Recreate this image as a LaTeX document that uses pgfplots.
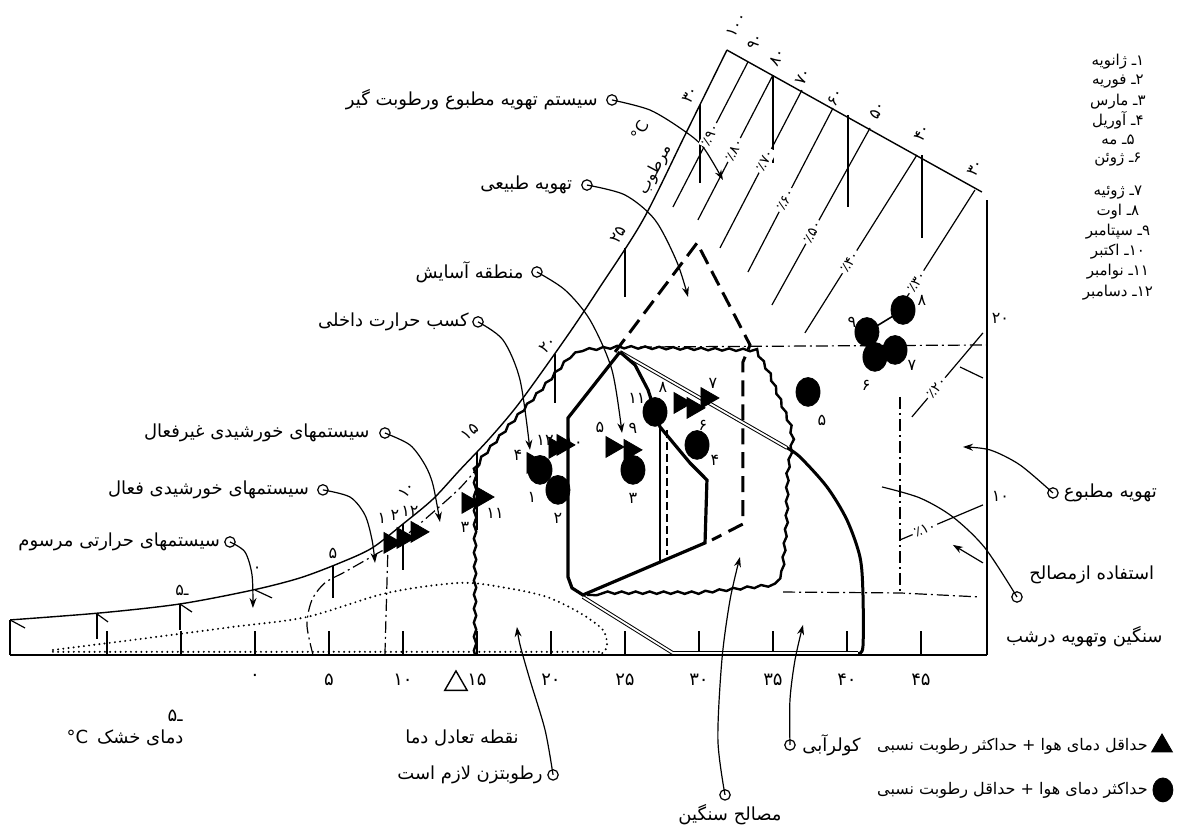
\documentclass[border=0pt]{standalone}
\usepackage{pgfplots}
\pgfplotsset{compat=1.18}
\usepackage{fontspec}
\usetikzlibrary{arrows.meta,decorations.pathmorphing}
\newfontfamily\pfont[Script=Arabic]{DejaVu Sans}
\TeXXeTstate=1
\newcommand{\fa}[1]{\hbox{\beginR #1\endR}}
% two pieces kept in visual order, left then right
\newcommand{\ns}[2]{\hbox{\hbox{#1}\hbox{#2}}}

% x: dry-bulb temperature (C), y: humidity ratio (g/kg)
\pgfplotsset{
  base/.style={line width=0.7pt},
  leader/.style={line width=0.6pt, smooth, -{Stealth[length=5pt,width=3.5pt]},
    mark=o, mark indices={1}, mark size=2.6pt, mark options={fill=white}},
  leadnoarrow/.style={line width=0.6pt, smooth,
    mark=o, mark indices={1}, mark size=2.6pt, mark options={fill=white}},
  natvent/.style={line width=1.5pt, dash pattern=on 8pt off 4pt},
  dd/.style={line width=0.6pt, dash pattern=on 6pt off 2pt on 1pt off 2pt},
  dots/.style={line width=1.1pt, line cap=round, dash pattern=on 0pt off 2.6pt},
  wavy/.style={line width=1.2pt, decorate, decoration={snake, amplitude=0.6pt, segment length=7pt}},
  dbl/.style={line width=0.5pt, double, double distance=0.9pt},
  tri/.style={only marks, mark=triangle*, mark size=6pt, mark options={rotate=-90}},
  blob/.style={only marks, mark=*, mark size=6pt, mark options={yscale=1.2}},
}
\tikzset{
  lab/.style={font=\pfont\fontsize{9}{11}\selectfont, inner sep=1pt},
  num/.style={font=\pfont\fontsize{8}{9}\selectfont, inner sep=0.5pt},
  mon/.style={font=\pfont\fontsize{7.5}{9}\selectfont, inner sep=0.5pt},
  rh/.style={font=\pfont\fontsize{7}{8}\selectfont, inner sep=1pt, fill=white},
}

\begin{document}
\begin{tikzpicture}
\begin{axis}[
  scale only axis, width=488.5pt, height=317.75pt,
  xmin=-16.55, xmax=49.46, ymin=0, ymax=41,
  axis x line=bottom, axis y line=none,
  x axis line style={-, line width=0.9pt},
  xtick={-10,-5,...,45},
  xticklabels={,,۰,۵,۱۰,۱۵,۲۰,۲۵,۳۰,۳۵,۴۰,۴۵},
  xtick align=inside, major tick length=12pt,
  tick style={black, line width=0.6pt},
  xticklabel style={font=\pfont\fontsize{9}{10}\selectfont, yshift=-6pt},
  clip=false,
]
% frame
\addplot[base] coordinates {(-16.55,0) (-16.55,2.26)};
\addplot[base] coordinates {(49.46,0) (49.46,29.36)};
\addplot[base] coordinates {(31.89,39.03) (49.12,29.87)};
% saturation curve
\addplot[base, smooth, tension=0.5] coordinates {(-16.55,2.26) (-10.47,2.71) (-5.07,3.29) (-0.14,4.19) (3.04,4.97) (5.74,5.94) (7.91,6.90) (10.0,8.45) (12.03,10.06) (13.85,11.94) (15.88,14.0) (17.91,16.32) (21.15,20.65) (23.31,23.74) (26.22,28.07) (29.06,33.55) (31.89,39.03)};
% wet-bulb and dry-bulb short lines
\addplot[line width=0.6pt, unbounded coords=jump] coordinates {(-10.68,2.70) (-10.68,1.0) (nan,nan) (-5.07,3.27) (-5.07,1.6) (nan,nan) (5.27,5.77) (5.27,3.7) (nan,nan) (10.0,8.45) (10.0,5.48) (nan,nan) (15.0,13.1) (15.0,8.07) (nan,nan) (20.27,19.45) (20.27,16.26) (nan,nan) (25.0,26.25) (25.0,23.10) (nan,nan) (30.07,35.5) (30.07,30.45) (nan,nan) (35.0,37.42) (35.0,31.74) (nan,nan) (40.07,34.84) (40.07,28.90) (nan,nan) (45.07,32.26) (45.07,26.90)};
\addplot[line width=0.6pt, unbounded coords=jump] coordinates {(-16.55,2.26) (-15.54,1.74) (nan,nan) (-10.68,2.65) (-9.93,2.13) (nan,nan) (-5.07,3.29) (-4.26,2.77) (nan,nan) (0,4.19) (1.15,3.68)};
% relative humidity lines
\addplot[line width=0.6pt, unbounded coords=jump] coordinates {(33.31,38.26) (28.24,28.90) (nan,nan) (35.0,37.42) (29.93,28.07) (nan,nan) (36.96,36.45) (31.42,26.26) (nan,nan) (39.06,35.29) (33.31,24.71) (nan,nan) (41.56,34.0) (34.93,22.58) (nan,nan) (44.73,32.26) (37.16,20.78) (nan,nan) (48.65,30.0) (43.92,22.90) (nan,nan) (49.19,20.78) (44.39,15.36) (nan,nan) (47.64,18.58) (49.19,17.87) (nan,nan) (43.58,7.42) (49.19,9.68)};
% humidification (dotted)
\addplot[dots, smooth] coordinates {(-13.65,0.32) (-8.24,0.97) (-1.49,1.81) (3.51,2.45) (8.92,4.0) (13.85,4.65) (17.03,4.32) (19.73,3.74) (21.96,2.71) (23.51,1.61) (23.78,0.52) (23.31,0)};
\addplot[dots] coordinates {(-13.65,0.2) (23.31,0.2)};
% solar heating limits (dash-dot)
\addplot[dd, smooth] coordinates {(3.92,0) (3.51,1.94) (3.85,3.55) (4.73,4.65) (6.08,5.36) (7.97,6.39) (9.80,7.42) (11.82,9.03) (13.85,10.77) (15.20,12.26)};
\addplot[dd] coordinates {(8.78,0) (8.99,7.10)};
% thermal mass (wavy)
\addplot[wavy] coordinates {(14.87,0) (14.87,11.94) (15.20,12.45) (17.03,14.52) (19.26,16.90) (21.08,18.90) (22.16,19.48) (24.66,19.68) (33.78,19.48) (34.80,17.74) (36.15,14.52) (36.35,13.42) (36.01,11.29) (35.95,8.06) (35.68,5.03) (35.34,4.39) (30.07,3.87) (22.43,3.87)};
% thermal mass with night ventilation (dash-dot)
\addplot[dd] coordinates {(26.01,19.87) (49.46,20.0)};
\addplot[dd] coordinates {(43.58,16.65) (43.58,4.0)};
\addplot[dd] coordinates {(35.68,4.06) (43.58,4.0) (48.99,3.74)};
% natural ventilation (dashed)
\addplot[natvent] coordinates {(24.33,19.55) (29.87,26.58) (33.45,20.0) (32.97,18.90) (32.97,8.45) (30.88,7.42)};
% evaporative cooling
\addplot[dbl] coordinates {(24.66,19.55) (35.95,13.36)};
\addplot[line width=1.5pt, smooth] coordinates {(35.95,13.36) (36.83,12.77) (38.65,10.84) (40.0,8.71) (40.88,6.32) (41.08,4.0) (41.08,0.52) (40.74,0.1)};
\addplot[dbl] coordinates {(40.74,0.12) (28.24,0.12) (22.16,3.74)};
% comfort zone
\addplot[line width=1.6pt] coordinates {(24.66,19.55) (21.15,15.29) (21.15,5.03) (21.42,4.32) (22.16,3.87) (30.41,7.23) (30.54,11.29) (29.39,12.39) (27.37,14.71) (26.56,17.10) (25.68,18.71) (24.66,19.55)};
\addplot[line width=1.4pt] coordinates {(27.37,14.71) (27.37,6.0)};
\addplot[line width=0.8pt, dash pattern=on 4pt off 2pt] coordinates {(27.84,14.52) (27.84,6.45)};
% leaders
\addplot[leader] coordinates {(24.12,35.81) (26.69,35.16) (28.92,33.87) (30.27,32.78) (31.62,30.65)};
\addplot[leader] coordinates {(22.43,30.32) (25.0,29.68) (27.03,28.07) (28.51,25.36) (29.26,23.10)};
\addplot[leader] coordinates {(19.05,24.71) (20.95,23.55) (22.64,21.61) (24.12,18.39) (24.80,14.32)};
\addplot[leader] coordinates {(15.07,21.49) (16.76,20.32) (17.91,17.74) (18.58,13.23)};
\addplot[leader] coordinates {(8.78,14.32) (10.47,13.55) (11.49,12.26) (12.03,10.97) (12.50,8.58)};
\addplot[leader] coordinates {(4.59,10.65) (6.42,10.19) (7.43,9.03) (7.91,7.42) (8.11,5.94)};
\addplot[leader] coordinates {(-1.69,7.29) (-0.68,6.65) (-0.20,5.16) (-0.14,3.03)};
\addplot[leader] coordinates {(53.92,10.45) (51.69,12.26) (49.66,13.23) (47.84,13.42)};
\addplot[leadnoarrow] coordinates {(51.49,3.74) (49.33,6.90) (47.16,8.90) (44.93,10.13) (42.37,10.84)};
\addplot[line width=0.6pt, -{Stealth[length=5pt,width=3.5pt]}] coordinates {(49.19,5.94) (47.16,7.10)};
\addplot[leader] coordinates {(20.14,-7.74) (19.60,-4.84) (18.58,-1.61) (17.91,0.65) (17.70,1.81)};
\addplot[leader] coordinates {(31.76,-9.03) (31.28,-5.48) (31.55,-0.32) (32.10,3.55) (32.77,6.32)};
\addplot[leader] coordinates {(36.15,-5.81) (36.15,-2.90) (36.49,-0.32) (37.03,1.94)};
% monthly points
\addplot[tri] coordinates {(9.12,7.23) (10.0,7.55) (10.95,7.94) (14.39,9.81) (15.34,10.19) (18.78,12.39) (20.27,13.36) (20.81,13.55) (24.12,13.42) (25.34,13.23) (28.72,16.26) (29.60,15.94) (30.54,16.58)};
\addplot[line width=0.8pt] coordinates {(41.35,20.84) (43.79,22.26)};
\addplot[blob] coordinates {(19.26,11.94) (20.47,10.65) (25.54,11.94) (27.03,15.68) (29.87,13.55) (37.37,16.97) (41.35,20.84) (43.79,22.26) (41.89,19.23) (43.25,19.68)};
% legend symbols
\addplot[only marks, mark=triangle*, mark size=6pt] coordinates {(61.29,-5.87)};
\addplot[only marks, mark=*, mark size=5pt, mark options={yscale=1.2}] coordinates {(61.35,-8.71)};
\addplot[only marks, mark=triangle, mark size=6.5pt, mark options={line width=0.7pt}] coordinates {(13.58,-1.87)};

% tick label -5 (set lower than the others)
\node[font=\pfont\fontsize{9}{10}\selectfont] at (-5.4,-3.90) {\ns{۵}{ـ}};
% month numbers
\node[num] at (8.58,8.84) {۱};
\node[num] at (9.46,9.03) {۲};
\node[num] at (10.47,9.23) {۱۲};
\node[num] at (14.19,8.26) {۳};
\node[num] at (16.22,9.16) {۱۱};
\node[num] at (17.77,12.90) {۴};
\node[num] at (19.60,13.87) {۱۲};
\node[num] at (21.56,13.74) {۱۰};
\node[num] at (18.72,10.19) {۱};
\node[num] at (20.47,8.84) {۲};
\node[num] at (23.31,14.65) {۵};
\node[num] at (25.54,14.65) {۹};
\node[num] at (25.54,10.13) {۳};
\node[num] at (25.81,16.58) {۱۱};
\node[num] at (27.57,17.23) {۸};
\node[num] at (30.27,14.84) {۶};
\node[num] at (30.95,17.55) {۷};
\node[num] at (31.08,12.58) {۴};
\node[num] at (38.31,15.16) {۵};
\node[num] at (40.34,21.49) {۹};
\node[num] at (45.07,22.90) {۸};
\node[num] at (41.29,17.42) {۶};
\node[num] at (44.39,18.65) {۷};
% wet-bulb labels
\node[num] at (-4.93,4.19) {\ns{۵}{ـ}};
\node[num] at (0.14,5.48) {۰};
\node[num] at (5.27,6.58) {۵};
\node[num, rotate=50] at (10.27,10.65) {۱۰};
\node[num, rotate=40] at (14.53,14.39) {۱۵};
\node[num, rotate=45] at (19.80,20.0) {۲۰};
\node[num, rotate=60] at (24.53,27.10) {۲۵};
\node[num, rotate=60] at (29.39,36.13) {۳۰};
\node[num, rotate=62] at (26.01,33.87) {°C};
\node[num, rotate=62] at (27.03,31.29) {\fa{مرطوب}};
% relative humidity labels
\node[rh, rotate=62.6] at (30.76,33.55) {\ns{٪}{۹۰}};
\node[rh, rotate=62.6] at (32.38,32.58) {\ns{٪}{۸۰}};
\node[rh, rotate=62.6] at (34.45,31.90) {\ns{٪}{۷۰}};
\node[rh, rotate=62.6] at (35.84,29.36) {\ns{٪}{۶۰}};
\node[rh, rotate=61] at (37.66,27.29) {\ns{٪}{۵۰}};
\node[rh, rotate=58] at (40.18,25.36) {\ns{٪}{۴۰}};
\node[rh, rotate=57.5] at (44.70,24.07) {\ns{٪}{۳۰}};
\node[rh, rotate=50] at (46.05,17.23) {\ns{٪}{۲۰}};
\node[rh, rotate=23] at (45.27,8.10) {\ns{٪}{۱۰}};
\node[num, rotate=60] at (32.57,40.65) {۱۰۰};
\node[num, rotate=60] at (33.78,39.55) {۹۰};
\node[num, rotate=60] at (35.27,38.58) {۸۰};
\node[num, rotate=60] at (37.03,37.29) {۷۰};
\node[num, rotate=60] at (39.19,36.0) {۶۰};
\node[num, rotate=60] at (42.03,35.16) {۵۰};
\node[num, rotate=60] at (45.07,33.68) {۴۰};
\node[num, rotate=60] at (48.65,31.42) {۳۰};
\node[num, anchor=west] at (49.7,21.74) {۲۰};
\node[num, anchor=west] at (49.7,10.20) {۱۰};
% zone labels
\node[lab, anchor=east] at (23.31,35.81) {\fa{سیستم تهویه مطبوع ورطوبت گیر}};
\node[lab, anchor=east] at (21.60,30.32) {\fa{تهویه طبیعی}};
\node[lab, anchor=east] at (18.30,24.71) {\fa{منطقه آسایش}};
\node[lab, anchor=east] at (14.60,21.49) {\fa{کسب حرارت داخلی}};
\node[lab, anchor=east] at (7.90,14.32) {\fa{سیستمهای خورشیدی غیرفعال}};
\node[lab, anchor=east] at (3.80,10.65) {\fa{سیستمهای خورشیدی فعال}};
\node[lab, anchor=east] at (-2.20,7.29) {\fa{سیستمهای حرارتی مرسوم}};
\node[lab, anchor=west] at (54.50,10.45) {\fa{تهویه مطبوع}};
\node[lab, anchor=west] at (52.16,5.16) {\fa{استفاده ازمصالح}};
\node[lab, anchor=east] at (61.49,1.16) {\fa{سنگین وتهویه درشب}};
\node[lab] at (-8.78,-5.36) {\hbox{°C}\enspace\fa{دمای خشک}};
\node[lab] at (13.99,-5.36) {\fa{نقطه تعادل دما}};
\node[lab, anchor=east] at (19.60,-7.74) {\fa{رطوبتزن لازم است}};
\node[lab] at (32.10,-10.32) {\fa{مصالح سنگین}};
\node[lab, anchor=west] at (36.83,-5.81) {\fa{کولرآبی}};
% legend
\node[lab, anchor=east, font=\pfont\fontsize{8}{9}\selectfont] at (60.48,-5.87) {\fa{حداقل دمای هوا + حداکثر رطوبت نسبی}};
\node[lab, anchor=east, font=\pfont\fontsize{8}{9}\selectfont] at (60.48,-8.71) {\fa{حداکثر دمای هوا + حداقل رطوبت نسبی}};
% month list
\node[mon] at (58.31,38.26) {\fa{ژانویه}\ \ns{ـ}{۱}};
\node[mon] at (58.31,36.97) {\fa{فوریه}\ \ns{ـ}{۲}};
\node[mon] at (58.31,35.68) {\fa{مارس}\ \ns{ـ}{۳}};
\node[mon] at (58.31,34.52) {\fa{آوریل}\ \ns{ـ}{۴}};
\node[mon] at (58.31,33.23) {\fa{مه}\ \ns{ـ}{۵}};
\node[mon] at (58.31,31.94) {\fa{ژوئن}\ \ns{ـ}{۶}};
\node[mon] at (58.31,29.81) {\fa{ژوئیه}\ \ns{ـ}{۷}};
\node[mon] at (58.31,28.58) {\fa{اوت}\ \ns{ـ}{۸}};
\node[mon] at (58.31,27.29) {\fa{سپتامبر}\ \ns{ـ}{۹}};
\node[mon] at (58.31,26.00) {\fa{اکتبر}\ \ns{ـ}{۱۰}};
\node[mon] at (58.31,24.71) {\fa{نوامبر}\ \ns{ـ}{۱۱}};
\node[mon] at (58.31,23.36) {\fa{دسامبر}\ \ns{ـ}{۱۲}};
\coordinate (bbsw) at (-17.23,-11.61);
\coordinate (bbne) at (62.37,42.26);
\end{axis}
\pgfresetboundingbox
\path[use as bounding box] (bbsw) rectangle (bbne);
\end{tikzpicture}
\end{document}
